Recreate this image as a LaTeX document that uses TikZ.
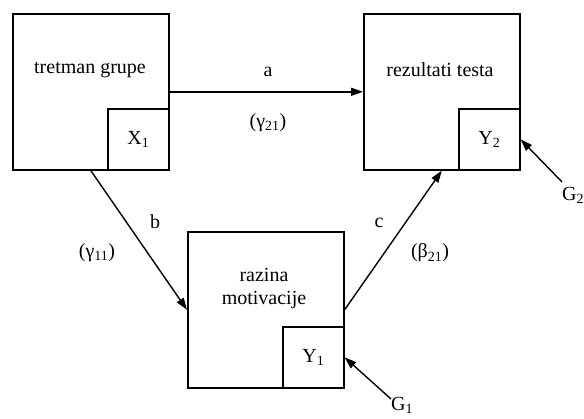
\documentclass[tikz,border=0pt]{standalone}
\usepackage{fontspec}
\setmainfont{Liberation Serif}
\usetikzlibrary{arrows.meta}
\begin{document}
\begin{tikzpicture}[x=1pt,y=-1pt,
  bigbox/.style={draw, line width=1.6pt, minimum width=156pt, minimum height=156pt, inner sep=0pt, anchor=north west},
  smallbox/.style={draw, line width=1.6pt, minimum width=61pt, minimum height=61pt, inner sep=0pt, anchor=south east, font=\fontsize{20}{24}\selectfont},
  txt/.style={inner sep=0pt, font=\fontsize{20}{24}\selectfont, align=center},
  arr/.style={line width=1.4pt, -{Triangle[length=12pt,width=8pt]}}]
\useasboundingbox (0,0) rectangle (584,418);
\fill[white] (0,0) rectangle (584,418);
% boxes
\node[bigbox] (b1) at (12,13) {};
\node[smallbox] (x1) at (b1.south east) {X\textsubscript{1}};
\node[txt] (t1) at (90,70) {tretman grupe};
\node[bigbox] (b2) at (363,13) {};
\node[smallbox] (y2) at (b2.south east) {Y\textsubscript{2}};
\node[txt] (t2) at (440,70) {rezultati testa};
\node[bigbox] (b3) at (187,231) {};
\node[smallbox] (y1) at (b3.south east) {Y\textsubscript{1}};
\node[txt] (t3) at (264,289) {razina\\[-1pt]motivacije};
% connectors
\draw[arr] (b1.east) -- (b2.west);
\draw[arr] (b1.south) -- (b3.west);
\draw[arr] (b3.east) -- (b2.south);
\coordinate (g1s) at (391,399);
\coordinate (g2s) at (562,182);
\draw[arr] (g1s) -- (y1.east);
\draw[arr] (g2s) -- (y2.east);
% labels
\node[txt] (la) at (268,72) {a};
\node[txt] (lga) at (268,123) {(γ\textsubscript{21})};
\node[txt] (lb) at (155,222) {b};
\node[txt] (lgb) at (97,253) {(γ\textsubscript{11})};
\node[txt] (lc) at (379,223) {c};
\node[txt] (lbc) at (430,253) {(β\textsubscript{21})};
\node[txt, anchor=west] (g2) at (562,195) {G\textsubscript{2}};
\node[txt, anchor=south west] (g1) at (391,414) {G\textsubscript{1}};
\end{tikzpicture}
\end{document}
